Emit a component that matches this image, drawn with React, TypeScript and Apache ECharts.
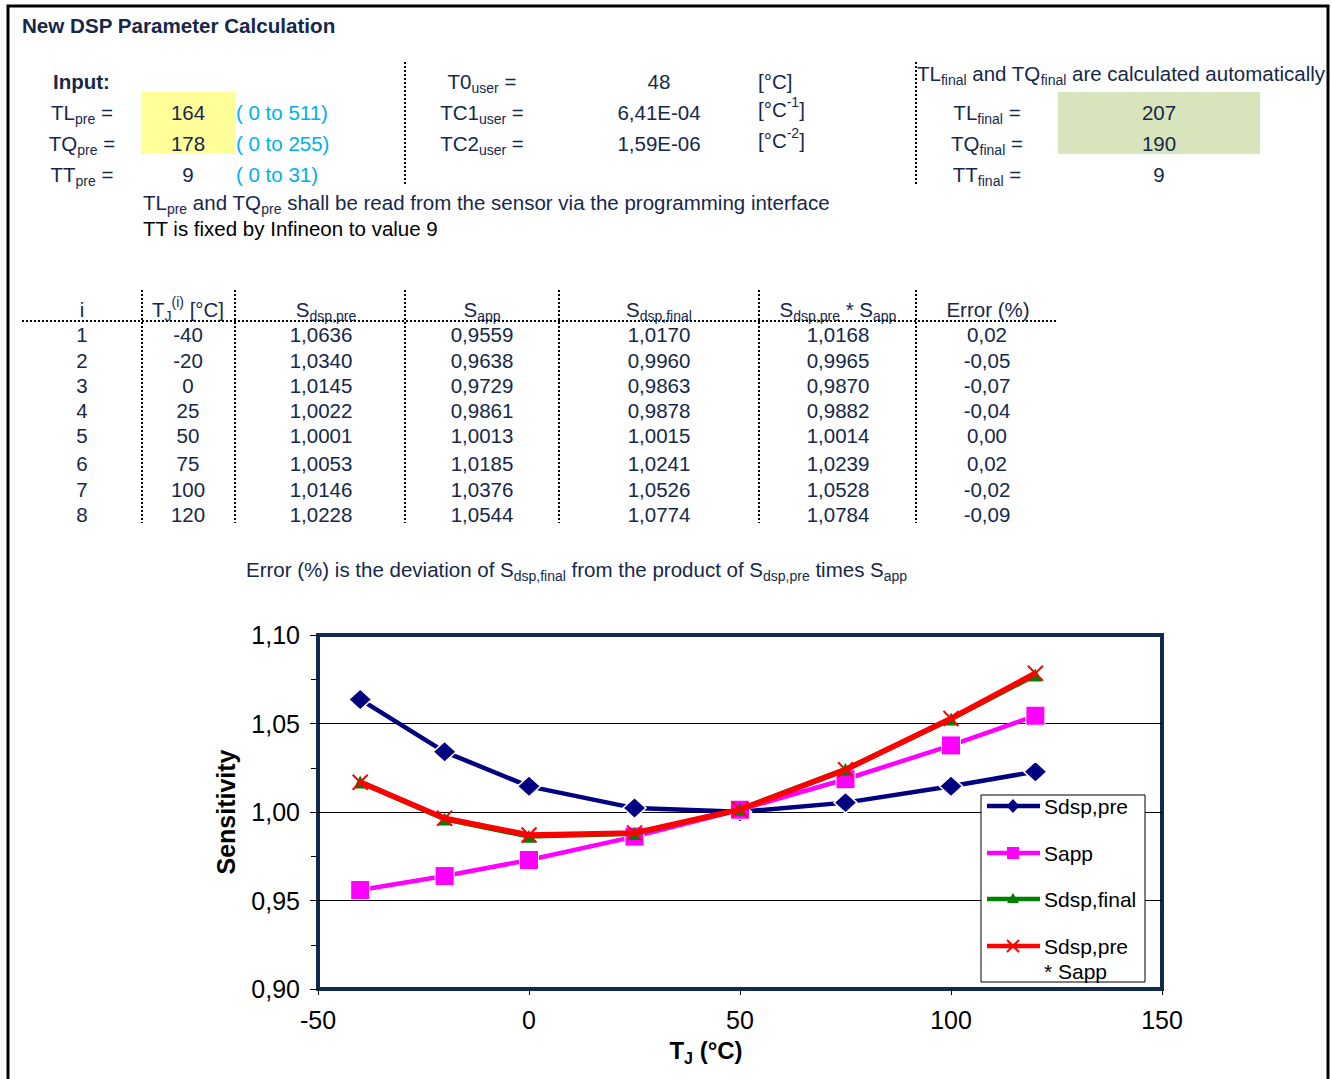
import React, { useEffect, useRef } from 'react';
import * as echarts from 'echarts';

// ---------- data ----------
const IDX = [1, 2, 3, 4, 5, 6, 7, 8];
const TJ = [-40, -20, 0, 25, 50, 75, 100, 120];
const S_DSP_PRE = [1.0636, 1.034, 1.0145, 1.0022, 1.0001, 1.0053, 1.0146, 1.0228];
const S_APP = [0.9559, 0.9638, 0.9729, 0.9861, 1.0013, 1.0185, 1.0376, 1.0544];
const S_DSP_FINAL = [1.017, 0.996, 0.9863, 0.9878, 1.0015, 1.0241, 1.0526, 1.0774];
const S_PRODUCT = [1.0168, 0.9965, 0.987, 0.9882, 1.0014, 1.0239, 1.0528, 1.0784];
const ERROR_PCT = [0.02, -0.05, -0.07, -0.04, 0.0, 0.02, -0.02, -0.09];

const PRE_LABELS = ['TL', 'TQ', 'TT'];
const PRE_VALUES = [164, 178, 9];
const PRE_RANGES = ['( 0 to 511)', '( 0 to 255)', '( 0 to 31)'];
const USER_LABELS = ['T0', 'TC1', 'TC2'];
const USER_VALUES = ['48', '6,41E-04', '1,59E-06'];
const USER_UNIT_EXP = ['', '-1', '-2'];
const FINAL_LABELS = ['TL', 'TQ', 'TT'];
const FINAL_VALUES = [207, 190, 9];

const SERIES_NAMES = ['Sdsp,pre', 'Sapp', 'Sdsp,final', 'Sdsp,pre * Sapp'];
const LEGEND_LINES = [['Sdsp,pre'], ['Sapp'], ['Sdsp,final'], ['Sdsp,pre', '* Sapp']];

const X_MIN = -50;
const X_MAX = 150;
const X_STEP = 50;
const Y_MIN = 0.9;
const Y_MAX = 1.1;
const Y_STEP = 0.05;

// ---------- styles ----------
const FONT = 'Liberation Sans, Arial, Helvetica, sans-serif';
const NAVY = '#16284a';
const CYAN = '#00b0f0';
const BLUE = '#000080';
const MAGENTA = '#ff00ff';
const GREEN = '#008000';
const RED = '#ff0000';
const FRAME = '#0e2a50';

type Kind = 'n' | 's' | 'p' | 'f';
type Part = [string, Kind];

function rtext(
  x: number,
  y: number,
  parts: Part[],
  o: { size?: number; bold?: boolean; align?: string; color?: string; z?: number } = {}
) {
  const size = o.size ?? 20.5;
  const color = o.color ?? NAVY;
  const align = o.align ?? 'center';
  const weight = o.bold ? 'bold' : 'normal';
  const sm = Math.round(size * 0.66);
  const lh = Math.round(size * 1.35);
  const base = { fontFamily: FONT, fontWeight: weight, fill: color };
  const rich = {
    n: { ...base, fontSize: size, lineHeight: lh, verticalAlign: 'middle' },
    s: { ...base, fontSize: sm, lineHeight: sm - 2, verticalAlign: 'bottom' },
    p: { ...base, fontSize: sm, lineHeight: sm + 2, verticalAlign: 'top' },
    f: { ...base, fontSize: sm, lineHeight: lh - 0.9 * (size - sm), verticalAlign: 'bottom' },
  };
  return {
    type: 'text',
    x,
    y,
    z: o.z ?? 10,
    style: {
      text: parts.map(([t, k]) => `{${k}|${t}}`).join(''),
      rich,
      fill: color,
      font: `${weight} ${size}px ${FONT}`,
      align,
      verticalAlign: 'middle',
      textAlign: align,
      textVerticalAlign: 'middle',
    },
  };
}

function dotted(x1: number, y1: number, x2: number, y2: number) {
  return {
    type: 'line',
    z: 5,
    shape: { x1, y1, x2, y2 },
    style: { stroke: '#000', lineWidth: 2, lineDash: [2, 2] },
  };
}

const fmt4 = (v: number) => v.toFixed(4).replace('.', ',');
const fmt2 = (v: number) => v.toFixed(2).replace('.', ',');

function buildGraphics() {
  const G: any[] = [];
  // page frame
  G.push({
    type: 'rect',
    z: 0,
    shape: { x: 8, y: 6, width: 1320, height: 1100 },
    style: { fill: 'transparent', stroke: '#000', lineWidth: 3 },
  });
  // title
  G.push(rtext(22, 25, [['New DSP Parameter Calculation', 'n']], { size: 20.6, bold: true, align: 'left' }));
  G.push(rtext(53, 81, [['Input:', 'n']], { size: 20.5, bold: true, align: 'left' }));

  // highlighted cells
  G.push({ type: 'rect', z: 1, shape: { x: 141, y: 92, width: 94, height: 62 }, style: { fill: '#ffff99' } });
  G.push({ type: 'rect', z: 1, shape: { x: 1058, y: 92, width: 202, height: 62 }, style: { fill: '#d8e4bc' } });

  const rowsY = [112, 143, 174];
  PRE_LABELS.forEach((l, i) => {
    G.push(rtext(82, rowsY[i], [[l, 'n'], ['pre', 's'], [' =', 'n']]));
    G.push(rtext(188, rowsY[i], [[String(PRE_VALUES[i]), 'n']]));
    G.push(rtext(236, rowsY[i], [[PRE_RANGES[i], 'n']], { align: 'left', color: CYAN }));
  });

  const userY = [81, 112, 143];
  USER_LABELS.forEach((l, i) => {
    G.push(rtext(482, userY[i], [[l, 'n'], ['user', 's'], [' =', 'n']]));
    G.push(rtext(659, userY[i], [[USER_VALUES[i], 'n']]));
    if (USER_UNIT_EXP[i]) {
      G.push(rtext(758, userY[i] - 3, [['[°C', 'n'], [USER_UNIT_EXP[i], 'p'], [']', 'n']], { align: 'left' }));
    } else {
      G.push(rtext(758, userY[i], [['[°C]', 'n']], { align: 'left' }));
    }
  });

  G.push(
    rtext(
      917,
      73,
      [
        ['TL', 'n'],
        ['final', 'f'],
        [' and TQ', 'n'],
        ['final', 'f'],
        [' are calculated automatically', 'n'],
      ],
      { align: 'left', size: 20.5 }
    )
  );
  FINAL_LABELS.forEach((l, i) => {
    G.push(rtext(987, rowsY[i], [[l, 'n'], ['final', 's'], [' =', 'n']]));
    G.push(rtext(1159, rowsY[i], [[String(FINAL_VALUES[i]), 'n']]));
  });

  G.push(
    rtext(
      143,
      202,
      [
        ['TL', 'n'],
        ['pre', 's'],
        [' and TQ', 'n'],
        ['pre', 's'],
        [' shall be read from the sensor via the programming interface', 'n'],
      ],
      { align: 'left' }
    )
  );
  G.push(rtext(143, 228, [['TT is fixed by Infineon to value 9', 'n']], { align: 'left', color: '#000' }));

  // separators
  G.push(dotted(405, 62, 405, 186));
  G.push(dotted(916, 62, 916, 186));
  [142, 235, 405, 559, 759, 916].forEach((x) => G.push(dotted(x, 290, x, 523)));
  G.push(dotted(22, 321, 1058, 321));

  // table header
  const hy = 309;
  G.push(rtext(82, hy, [['i', 'n']]));
  G.push(rtext(188, hy, [['T', 'n'], ['J', 's'], ['(i)', 'p'], [' [°C]', 'n']]));
  G.push(rtext(326, hy, [['S', 'n'], ['dsp,pre', 's']]));
  G.push(rtext(482, hy, [['S', 'n'], ['app', 's']]));
  G.push(rtext(659, hy, [['S', 'n'], ['dsp,final', 's']]));
  G.push(rtext(838, hy, [['S', 'n'], ['dsp,pre', 's'], [' * S', 'n'], ['app', 's']]));
  G.push(rtext(988, hy, [['Error (%)', 'n']]));

  // table rows
  const tableY = [334, 360, 385, 410, 435, 463, 489, 514];
  IDX.forEach((n, i) => {
    const y = tableY[i];
    G.push(rtext(82, y, [[String(n), 'n']]));
    G.push(rtext(188, y, [[String(TJ[i]), 'n']]));
    G.push(rtext(321, y, [[fmt4(S_DSP_PRE[i]), 'n']]));
    G.push(rtext(482, y, [[fmt4(S_APP[i]), 'n']]));
    G.push(rtext(659, y, [[fmt4(S_DSP_FINAL[i]), 'n']]));
    G.push(rtext(838, y, [[fmt4(S_PRODUCT[i]), 'n']]));
    G.push(rtext(987, y, [[fmt2(ERROR_PCT[i]), 'n']]));
  });

  G.push(
    rtext(
      246,
      569,
      [
        ['Error (%) is the deviation of S', 'n'],
        ['dsp,final', 's'],
        [' from the product of S', 'n'],
        ['dsp,pre', 's'],
        [' times S', 'n'],
        ['app', 's'],
      ],
      { align: 'left' }
    )
  );

  // axis titles
  G.push({
    type: 'text',
    x: 226,
    y: 812,
    rotation: Math.PI / 2,
    z: 10,
    style: {
      text: 'Sensitivity',
      font: `bold 25px ${FONT}`,
      fill: '#000',
      align: 'center',
      verticalAlign: 'middle',
      textAlign: 'center',
      textVerticalAlign: 'middle',
    },
  });
  G.push(rtext(706, 1050, [['T', 'n'], ['J', 's'], [' (°C)', 'n']], { size: 24, bold: true, color: '#000' }));

  // legend
  G.push({
    type: 'rect',
    z: 50,
    shape: { x: 981, y: 795, width: 164, height: 187 },
    style: { fill: '#fff', stroke: '#000', lineWidth: 1 },
  });
  const legY = [806, 853, 899, 946];
  const legCol = [BLUE, MAGENTA, GREEN, RED];
  legY.forEach((yy, i) => {
    G.push({ type: 'line', z: 51, shape: { x1: 987, y1: yy, x2: 1040, y2: yy }, style: { stroke: legCol[i], lineWidth: 4.5 } });
    LEGEND_LINES[i].forEach((t, j) => {
      G.push(rtext(1044, yy + j * 25, [[t, 'n']], { align: 'left', color: '#000', z: 52, size: 21 }));
    });
  });
  G.push({
    type: 'polygon',
    z: 52,
    shape: { points: [[1013, 799], [1019.5, 806], [1013, 813], [1006.5, 806]] },
    style: { fill: BLUE },
  });
  G.push({ type: 'rect', z: 52, shape: { x: 1007, y: 847, width: 12, height: 12 }, style: { fill: MAGENTA } });
  G.push({
    type: 'polygon',
    z: 52,
    shape: { points: [[1013, 893], [1019, 903], [1007, 903]] },
    style: { fill: GREEN },
  });
  G.push({ type: 'line', z: 52, shape: { x1: 1007, y1: 940, x2: 1019, y2: 952 }, style: { stroke: RED, lineWidth: 2 } });
  G.push({ type: 'line', z: 52, shape: { x1: 1019, y1: 940, x2: 1007, y2: 952 }, style: { stroke: RED, lineWidth: 2 } });

  return G;
}

function buildOption() {
  const pairs = (ys: number[]) => TJ.map((t, i) => [t, ys[i]]);
  return {
    animation: false,
    backgroundColor: '#fff',
    grid: {
      left: 318,
      top: 635,
      width: 844,
      height: 354,
      show: true,
      borderColor: FRAME,
      borderWidth: 4,
      backgroundColor: 'transparent',
      containLabel: false,
    },
    xAxis: {
      type: 'value',
      min: X_MIN,
      max: X_MAX,
      interval: X_STEP,
      axisLine: { show: false, onZero: false },
      axisTick: { show: true, length: 6, lineStyle: { color: '#000', width: 1 } },
      axisLabel: { fontSize: 25, color: '#000', fontFamily: FONT, margin: 18 },
      splitLine: { show: false },
    },
    yAxis: {
      type: 'value',
      min: Y_MIN,
      max: Y_MAX,
      interval: Y_STEP,
      axisLine: { show: false, onZero: false },
      axisTick: { show: true, length: 8, lineStyle: { color: '#000', width: 1 } },
      minorTick: { show: true, splitNumber: 2, length: 7, lineStyle: { color: '#000', width: 1 } },
      axisLabel: {
        fontSize: 25,
        color: '#000',
        fontFamily: FONT,
        margin: 18,
        formatter: (v: number) => v.toFixed(2).replace('.', ','),
      },
      splitLine: { show: true, showMinLine: false, showMaxLine: false, lineStyle: { color: '#000', width: 1 } },
    },
    series: [
      {
        type: 'line',
        name: SERIES_NAMES[0],
        data: pairs(S_DSP_PRE),
        symbol: 'diamond',
        symbolSize: [23, 21],
        lineStyle: { color: BLUE, width: 4.5 },
        itemStyle: { color: BLUE, borderColor: '#fff', borderWidth: 1.5 },
        z: 2,
      },
      {
        type: 'line',
        name: SERIES_NAMES[1],
        data: pairs(S_APP),
        symbol: 'rect',
        symbolSize: 19,
        lineStyle: { color: MAGENTA, width: 4.5 },
        itemStyle: { color: MAGENTA, borderColor: '#fff', borderWidth: 1 },
        z: 3,
      },
      {
        type: 'line',
        name: SERIES_NAMES[2],
        data: pairs(S_DSP_FINAL),
        symbol: 'triangle',
        symbolSize: 13,
        lineStyle: { color: GREEN, width: 5 },
        itemStyle: { color: GREEN },
        z: 4,
      },
      {
        type: 'line',
        name: SERIES_NAMES[3],
        data: pairs(S_PRODUCT),
        symbol: 'path://M0,0L10,10M10,0L0,10',
        symbolSize: 15,
        lineStyle: { color: RED, width: 5.5 },
        itemStyle: { color: RED, borderColor: RED, borderWidth: 2 },
        z: 5,
      },
    ],
    graphic: { elements: buildGraphics() },
  };
}

export default function App() {
  const ref = useRef<HTMLDivElement>(null);
  useEffect(() => {
    document.body.style.margin = '0';
    const chart = echarts.init(ref.current as HTMLDivElement, null, { renderer: 'svg' });
    chart.setOption(buildOption() as any);
    return () => chart.dispose();
  }, []);
  return <div ref={ref} style={{ width: 1332, height: 1079, background: '#fff' }} />;
}
